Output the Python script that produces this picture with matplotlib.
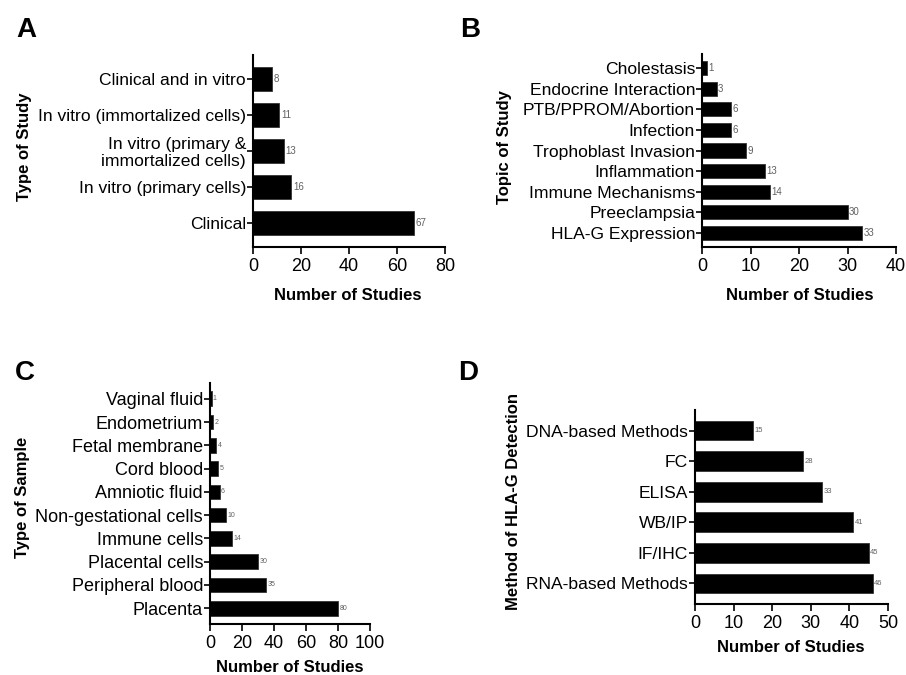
import matplotlib
matplotlib.use("Agg")
import matplotlib.pyplot as plt

plt.rcParams['font.family'] = ['Liberation Sans', 'DejaVu Sans']

W, H = 906, 675

# Data (listed top to bottom as displayed)
a_cats = ["Clinical and in vitro", "In vitro (immortalized cells)",
          "In vitro (primary &\nimmortalized cells)", "In vitro (primary cells)", "Clinical"]
a_vals = [8, 11, 13, 16, 67]

b_cats = ["Cholestasis", "Endocrine Interaction", "PTB/PPROM/Abortion", "Infection",
          "Trophoblast Invasion", "Inflammation", "Immune Mechanisms", "Preeclampsia",
          "HLA-G Expression"]
b_vals = [1, 3, 6, 6, 9, 13, 14, 30, 33]

c_cats = ["Vaginal fluid", "Endometrium", "Fetal membrane", "Cord blood", "Amniotic fluid",
          "Non-gestational cells", "Immune cells", "Placental cells", "Peripheral blood",
          "Placenta"]
c_vals = [1, 2, 4, 5, 6, 10, 14, 30, 35, 80]

d_cats = ["DNA-based Methods", "FC", "ELISA", "WB/IP", "IF/IHC", "RNA-based Methods"]
d_vals = [15, 28, 33, 41, 45, 46]

fig = plt.figure(figsize=(W / 100, H / 100), dpi=100)


def rect(l, t, r, b):
    return [l / W, 1 - b / H, (r - l) / W, (b - t) / H]


def panel(box, cats, vals, xmax, xstep, ylab, letter, letter_xy, ylab_xy, xlab_xy,
          barh=0.67, tick_fs=12.6, xtick_fs=13, val_fs=7, margin=0.67):
    ax = fig.add_axes(rect(*box))
    n = len(cats)
    ys = [n - 1 - i for i in range(n)]
    ax.barh(ys, vals, height=barh, color='black', edgecolor='#333333', linewidth=0.6)
    for y, v in zip(ys, vals):
        ax.text(v + xmax * 0.008, y, str(v), va='center', ha='left',
                fontsize=val_fs, color='#606060')
    ax.set_yticks(ys)
    ax.set_yticklabels(cats, fontsize=tick_fs, ha='right', linespacing=1.15)
    ax.set_xlim(0, xmax)
    ax.set_xticks(list(range(0, xmax + 1, xstep)))
    ax.tick_params(axis='x', labelsize=xtick_fs, length=5, width=1.2, pad=3)
    ax.tick_params(axis='y', length=4, width=1.2, pad=1)
    ax.set_ylim(-margin, n - 1 + margin)
    for s in ['top', 'right']:
        ax.spines[s].set_visible(False)
    for s in ['left', 'bottom']:
        ax.spines[s].set_linewidth(1.5)
    fig.text(letter_xy[0] / W, 1 - letter_xy[1] / H, letter, fontsize=20,
             fontweight='bold', ha='center', va='center')
    fig.text(ylab_xy[0] / W, 1 - ylab_xy[1] / H, ylab, fontsize=12,
             fontweight='bold', ha='center', va='center', rotation=90)
    fig.text(xlab_xy[0] / W, 1 - xlab_xy[1] / H, "Number of Studies", fontsize=12,
             fontweight='bold', ha='center', va='center')
    return ax


panel((253, 55, 445, 247), a_cats, a_vals, 80, 20, "Type of Study", "A",
      (26, 30), (25, 147), (348, 295), barh=0.67, val_fs=7)
panel((702, 54, 896, 247), b_cats, b_vals, 40, 10, "Topic of Study", "B",
      (470, 30), (505, 147), (800, 295), barh=0.68, val_fs=7, margin=0.68)
panel((210, 383, 370, 624), c_cats, c_vals, 100, 20, "Type of Sample", "C",
      (25, 373), (23, 497), (290, 668), barh=0.63, val_fs=5, margin=0.68,
      tick_fs=13)
panel((695, 410, 888, 604), d_cats, d_vals, 50, 10, "Method of HLA-G Detection", "D",
      (468, 373), (513, 502), (791, 648), barh=0.65, val_fs=5.5, margin=0.67)

fig.savefig("out.png", dpi=100)
